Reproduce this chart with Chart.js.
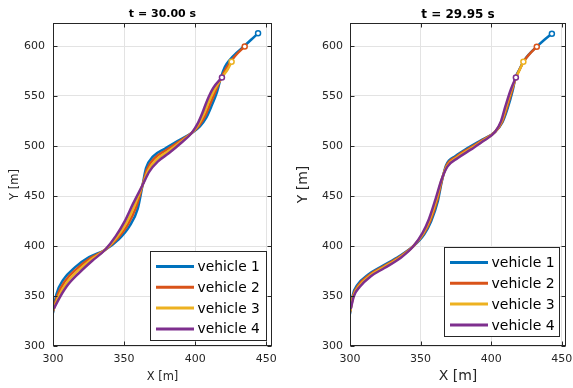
<!DOCTYPE html>
<html>
<head>
<meta charset="utf-8">
<script src="https://cdn.jsdelivr.net/npm/chart.js@4.4.0/dist/chart.umd.min.js"></script>
<style>
  html, body { margin: 0; padding: 0; background: #fff; }
  #wrap { position: relative; width: 573px; height: 388px; }
  #left { position: absolute; left: 0; top: 0; }
  #right { position: absolute; left: 290px; top: 0; }
</style>
</head>
<body>
<div id="wrap">
  <canvas id="left" width="290" height="388"></canvas>
  <canvas id="right" width="283" height="388"></canvas>
</div>
<script>
const vehicleLabels = ['vehicle 1', 'vehicle 2', 'vehicle 3', 'vehicle 4'];
const vehicleColors = ['#0072BD', '#D95319', '#EDB120', '#7E2F8E'];
const xTicks = [300, 350, 400, 450];
const yTicks = [300, 350, 400, 450, 500, 550, 600];

// left panel, t = 30.00 s   [X, Y] in m
const left1 = [[300,333],[302.4,351.8],[307.4,366.6],[315.4,378.6],[325.4,388.8],[336.5,396],[346.0,406.4],[353.6,419.4],[359.6,437.4],[363,461],[365.4,477.8],[370.4,489.6],[378.6,497.3],[388.2,505.3],[397.5,513],[403.3,519.7],[407.9,528.7],[411.6,540.4],[415.3,553.9],[418.2,569],[420.8,579],[424.5,586.5],[429,593],[434.5,600],[439.5,606.5],[444.2,612.8]];
const left2 = [[300,334.5],[303.1,350.6],[308.5,364.9],[316.5,376.9],[326.1,387.6],[336.5,396],[345.3,407.5],[352.5,421.1],[358.5,439.1],[363,461],[366.1,476.6],[371.5,487.9],[379.5,495.8],[388.7,504.4],[397.5,513],[402.8,520.6],[407.0,530.2],[410.5,542.1],[414.4,555.3],[418.5,568.7],[422,578],[425.8,586],[430,593],[434.8,599.5]];
const left3 = [[300.2,336],[303.9,349.4],[309.5,363.1],[317.5,375.1],[326.9,386.4],[336.5,396],[344.7,408.5],[351.5,422.9],[357.5,440.9],[363,461],[366.9,475.4],[372.5,486.1],[380.5,494.2],[389.3,503.6],[397.5,513],[402.2,521.4],[406.0,531.8],[409.5,543.9],[413.6,556.7],[418.8,568.5],[423,577],[425.6,584.3]];
const left4 = [[300.5,337],[304.6,348.2],[310.6,361.4],[318.6,373.4],[327.6,385.2],[336.5,396],[344.0,409.6],[350.4,424.6],[356.4,442.6],[363,461],[367.6,474.2],[373.6,484.4],[381.4,492.7],[389.8,502.7],[397.5,513],[401.7,522.3],[405.1,533.3],[408.4,545.6],[412.7,558.1],[418.8,568.6]];

// right panel, t = 29.95 s
const right1 = [[300,332],[302.0,351.0],[305.2,361.0],[313.2,371.8],[322.8,380.0],[334.8,389.7],[345,400],[352.6,411.8],[357.5,424.8],[362.2,444.8],[365.2,465.7],[368.0,480.6],[374.8,490.0],[384.2,498.6],[394.0,506.6],[402.8,514.2],[408.0,523.7],[411.8,538.3],[415.2,555.2],[417.3,568.6],[420,576.5],[422.8,584.3],[427,592],[432.3,599.3],[437.5,606],[443,612.3]];
const right2 = [[300,333.5],[302.3,350.7],[305.7,360.3],[313.7,371.1],[323.3,379.3],[335.2,389.2],[345,400],[352.2,412.3],[357.0,425.5],[361.7,445.5],[365.1,465.9],[368.3,480.2],[375.3,489.3],[384.7,497.9],[394.3,506.2],[402.8,514.2],[407.7,524.1],[411.3,539.0],[414.8,555.7],[417.5,568.4],[420.1,576.4],[422.9,584.2],[427.1,591.9],[432.3,599.3]];
const right3 = [[300.2,335],[302.5,350.3],[306.3,359.7],[314.3,370.5],[323.9,378.7],[335.6,388.8],[345,400],[351.8,412.7],[356.4,426.1],[361.1,446.1],[364.9,466.1],[368.7,479.8],[375.9,488.7],[385.3,497.3],[394.7,505.8],[402.8,514.2],[407.3,524.5],[410.7,539.6],[414.4,556.3],[417.6,568.3],[420.2,576.3],[422.8,584.3]];
const right4 = [[300.5,337],[302.8,350.0],[306.8,359.0],[314.8,369.8],[324.4,378.0],[336.0,388.3],[345,400],[351.4,413.2],[355.9,426.8],[360.6,446.8],[364.8,466.3],[369.0,479.4],[376.4,488.0],[385.8,496.6],[395.0,505.4],[402.8,514.2],[407.0,524.9],[410.2,540.3],[414.0,556.8],[417.5,568.5]];

const FONT = 'DejaVu Sans';
const AXIS = '#262626';

// axes box, inward ticks and the legend box in the lower right corner
const axesPlugin = {
    id: 'axesBox',
    afterDatasetsDraw(chart) {
        const ctx = chart.ctx;
        const a = chart.chartArea;
        const L = Math.round(a.left) + 0.5, R = Math.round(a.right) - 0.5;
        const T = Math.round(a.top) + 0.5, B = Math.round(a.bottom) - 0.5;
        ctx.save();
        ctx.strokeStyle = AXIS;
        ctx.lineWidth = 1;
        ctx.beginPath();
        chart.scales.x.ticks.forEach(t => {
            const px = Math.round(chart.scales.x.getPixelForValue(t.value)) + 0.5;
            ctx.moveTo(px, B); ctx.lineTo(px, B - 4);
            ctx.moveTo(px, T); ctx.lineTo(px, T + 4);
        });
        chart.scales.y.ticks.forEach(t => {
            const py = Math.round(chart.scales.y.getPixelForValue(t.value)) + 0.5;
            ctx.moveTo(L, py); ctx.lineTo(L + 4, py);
            ctx.moveTo(R, py); ctx.lineTo(R - 4, py);
        });
        ctx.stroke();
        ctx.strokeRect(L, T, R - L, B - T);
        ctx.restore();
    },
    afterDraw(chart, args, opts) {
        const ctx = chart.ctx;
        const a = chart.chartArea;
        const x0 = Math.round(a.right - opts.dx - opts.w) + 0.5;
        const y0 = Math.round(a.bottom - opts.dy - opts.h) + 0.5;
        ctx.save();
        ctx.fillStyle = '#fff';
        ctx.fillRect(x0, y0, opts.w, opts.h);
        ctx.strokeStyle = AXIS;
        ctx.lineWidth = 1;
        ctx.strokeRect(x0, y0, opts.w, opts.h);
        ctx.font = opts.fontSize + 'px "' + FONT + '"';
        ctx.textBaseline = 'middle';
        ctx.fillStyle = '#000';
        chart.data.datasets.forEach((ds, i) => {
            const y = y0 + 15 + i * 20.8;
            ctx.strokeStyle = ds.borderColor;
            ctx.lineWidth = 3;
            ctx.beginPath();
            ctx.moveTo(x0 + 5.5, y);
            ctx.lineTo(x0 + 43.5, y);
            ctx.stroke();
            ctx.fillText(ds.label, x0 + 47, y + 1);
        });
        ctx.restore();
    }
};

function makePanel(id, series, o) {
    const datasets = series.map((pts, i) => ({
        label: vehicleLabels[i],
        data: pts.map(p => ({ x: p[0], y: p[1] })),
        showLine: true,
        borderColor: vehicleColors[i],
        backgroundColor: vehicleColors[i],
        borderWidth: 2.5,
        cubicInterpolationMode: 'monotone',
        order: 3 - i,
        pointRadius: c => (c.dataIndex === pts.length - 1 ? 2.5 : 0),
        pointBackgroundColor: '#fff',
        pointBorderColor: vehicleColors[i],
        pointBorderWidth: 1.5
    }));

    return new Chart(document.getElementById(id), {
        type: 'scatter',
        data: { datasets },
        plugins: [axesPlugin],
        options: {
            responsive: false,
            animation: false,
            devicePixelRatio: 1,
            events: [],
            layout: { padding: { left: 0, top: 0, bottom: 0, right: o.padRight } },
            plugins: {
                legend: { display: false },
                tooltip: { enabled: false },
                title: {
                    display: true,
                    text: o.title,
                    fullSize: false,
                    color: '#000',
                    font: { family: FONT, size: o.titleSize, weight: 'bold', lineHeight: 1.2 },
                    padding: { top: o.titlePadTop, bottom: o.titlePadBottom }
                },
                axesBox: o.legend
            },
            scales: {
                x: {
                    type: 'linear',
                    min: 300,
                    max: o.xMax,
                    afterBuildTicks: s => { s.ticks = xTicks.map(v => ({ value: v })); },
                    afterFit: s => { s.height = o.xAxisHeight; s.paddingLeft = 0; s.paddingRight = 0; },
                    grid: { color: '#e3e3e3', lineWidth: 1, drawTicks: false },
                    border: { display: false },
                    ticks: { color: AXIS, font: { family: FONT, size: o.tickSize }, padding: 7, maxRotation: 0, autoSkip: false },
                    title: {
                        display: true, text: 'X [m]', color: AXIS,
                        font: { family: FONT, size: o.labelSize, lineHeight: 1.2 },
                        padding: { top: 0, bottom: o.xTitlePad }
                    }
                },
                y: {
                    type: 'linear',
                    min: 300,
                    max: 623,
                    afterBuildTicks: s => { s.ticks = yTicks.map(v => ({ value: v })); },
                    afterFit: s => { s.width = o.yAxisWidth; s.paddingTop = 0; s.paddingBottom = 0; },
                    grid: { color: '#e3e3e3', lineWidth: 1, drawTicks: false },
                    border: { display: false },
                    ticks: { color: AXIS, font: { family: FONT, size: o.tickSize }, padding: o.yTickPad, autoSkip: false },
                    title: {
                        display: true, text: 'Y [m]', color: AXIS,
                        font: { family: FONT, size: o.labelSize, lineHeight: 1.2 },
                        padding: { top: o.yTitlePad, bottom: 0 }
                    }
                }
            }
        }
    });
}

makePanel('left', [left1, left2, left3, left4], {
    title: 't = 30.00 s', titleSize: 11, titlePadTop: 8, titlePadBottom: 1.8,
    xMax: 454, padRight: 18, xAxisHeight: 42, yAxisWidth: 53,
    tickSize: 11, labelSize: 11.5, xTitlePad: 4, yTitlePad: 8, yTickPad: 8,
    legend: { w: 116, h: 89, dx: 6, dy: 6, fontSize: 13.8 }
});

makePanel('right', [right1, right2, right3, right4], {
    title: 't = 29.95 s', titleSize: 12, titlePadTop: 7.5, titlePadBottom: 1.1,
    xMax: 453, padRight: 7, xAxisHeight: 42, yAxisWidth: 60,
    tickSize: 11, labelSize: 14, xTitlePad: 3.6, yTitlePad: 5, yTickPad: 7,
    legend: { w: 115, h: 89, dx: 7, dy: 10, fontSize: 14 }
});
</script>
</body>
</html>
